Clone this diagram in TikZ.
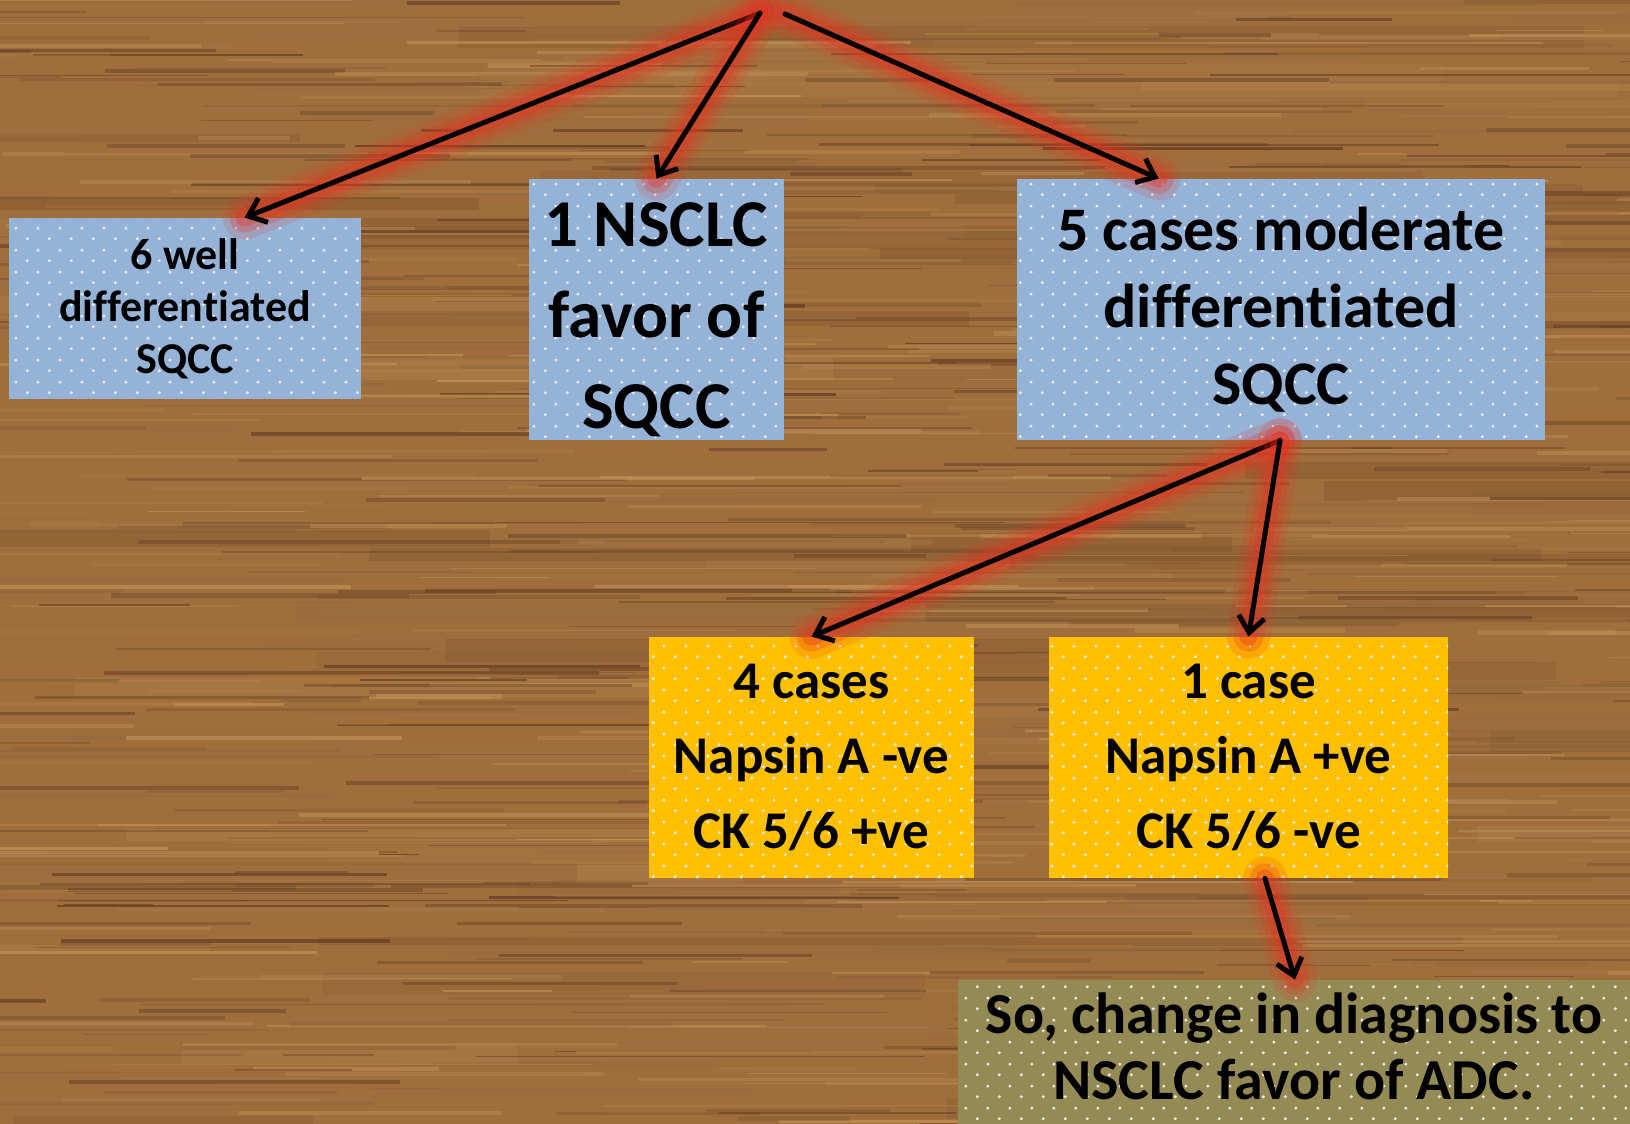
\documentclass[tikz,border=0pt]{standalone}
\usepackage{fontspec}
\setmainfont{Carlito}[Ligatures=NoCommon]
\usetikzlibrary{arrows.meta,patterns.meta}
\definecolor{woodB}{RGB}{160,110,60}
\definecolor{woodL}{RGB}{200,152,92}
\definecolor{woodD}{RGB}{88,50,26}
\definecolor{boxblue}{RGB}{149,179,215}
\definecolor{boxorange}{RGB}{255,192,0}
\definecolor{boxolive}{RGB}{148,138,84}
\definecolor{glowred}{RGB}{232,48,32}
\tikzdeclarepattern{
  name=wdots,
  type=uncolored,
  bounding box={(0pt,0pt) and (10.8pt,11pt)},
  tile size={(10.8pt,11pt)},
  code={
    \pgfpathcircle{\pgfpoint{2.7pt}{2.75pt}}{0.85pt}
    \pgfpathcircle{\pgfpoint{8.1pt}{8.25pt}}{0.85pt}
    \pgfusepath{fill}
  }
}
\tikzset{
  card/.style={rectangle, inner sep=0pt, align=center, text=black,
    postaction={pattern=wdots, pattern color=white!92!black}},
  bluecard/.style={card, fill=boxblue},
  orangecard/.style={card, fill=boxorange},
  olivecard/.style={card, fill=boxolive},
  arr/.style={draw=black, line width=2.5pt, line cap=round,
    -{Straight Barb[length=8pt,width=13pt,line width=2.5pt]},
    preaction={draw=glowred, line width=22pt, draw opacity=0.16, -, line cap=round},
    preaction={draw=glowred, line width=15pt, draw opacity=0.24, -, line cap=round},
    preaction={draw=glowred, line width=9pt, draw opacity=0.34, -, line cap=round}}
}
\begin{document}
\begin{tikzpicture}[x=0.5pt,y=-0.5pt]
\useasboundingbox (0,0) rectangle (1630,1124);
% wood background
\fill[woodB] (0,0) rectangle (1630,1124);
\begin{scope}
\clip (0,0) rectangle (1630,1124);
\pgfmathsetseed{4242}
\foreach \i in {1,...,70}{
  \pgfmathsetmacro\yy{rnd*1124}
  \pgfmathsetmacro\xx{rnd*1800-300}
  \pgfmathsetmacro\ll{300+rnd*900}
  \pgfmathsetmacro\ww{4+rnd*8}
  \pgfmathtruncatemacro\cc{rnd*100}
  \draw[line width=\ww pt, draw=woodD!\cc!woodL, draw opacity=0.2] (\xx,\yy) -- ++(\ll,0);
}
\foreach \i in {1,...,950}{
  \pgfmathsetmacro\yy{rnd*1124}
  \pgfmathsetmacro\xx{rnd*1800-150}
  \pgfmathsetmacro\ll{80+rnd*450}
  \pgfmathsetmacro\ww{0.4+rnd*1.8}
  \pgfmathtruncatemacro\cc{rnd*100}
  \pgfmathsetmacro\oo{0.25+rnd*0.45}
  \draw[line width=\ww pt, draw=woodD!\cc!woodL, draw opacity=\oo] (\xx,\yy) -- ++(\ll,0);
}
\end{scope}
% boxes
\node[bluecard, minimum width=176pt, minimum height=90.5pt,
  font=\fontsize{22}{26}\selectfont\bfseries] (A) at (185,308.5)
  {6 well\\differentiated\\SQCC};
\node[bluecard, minimum width=127.5pt, minimum height=130.5pt,
  label={[font=\fontsize{33.5}{45.5}\selectfont\bfseries, align=center, yshift=-5pt]center:{1 NSCLC\\favor of\\SQCC}}]
  (B) at (656.5,309.5) {};
\node[bluecard, minimum width=264pt, minimum height=130.5pt,
  font=\fontsize{31}{38.5}\selectfont\bfseries] (C) at (1281,309.5)
  {5 cases moderate\\differentiated\\SQCC};
\node[orangecard, minimum width=162.5pt, minimum height=120.5pt,
  font=\fontsize{26.5}{37.5}\selectfont\bfseries] (D) at (811.5,757.5)
  {4 cases\\Napsin A -ve\\CK 5/6 +ve};
\node[orangecard, minimum width=199.5pt, minimum height=120.5pt,
  font=\fontsize{26.5}{37.5}\selectfont\bfseries] (E) at (1248.5,757.5)
  {1 case\\Napsin A +ve\\CK 5/6 -ve};
\node[olivecard, minimum width=336pt, minimum height=72pt,
  label={[font=\fontsize{29}{33}\selectfont\bfseries, align=center, yshift=3pt]center:{So, change in diagnosis to\\NSCLC favor of ADC.}}]
  (F) at (1294,1052) {};
% origins
\coordinate (o1) at (760,13);
\coordinate (o2) at (785,14);
% arrows
\draw[arr] (o1) -- ([xshift=118pt]A.north west);
\draw[arr] (o1) -- (B.north);
\draw[arr] (o2) -- ([xshift=71pt]C.north west);
\draw[arr] ([xshift=-0.5pt]C.south) -- (D.north);
\draw[arr] ([xshift=-0.5pt]C.south) -- (E.north);
\draw[arr] ([xshift=8.25pt]E.south) -- ([xshift=0.5pt]F.north);
\end{tikzpicture}
\end{document}
